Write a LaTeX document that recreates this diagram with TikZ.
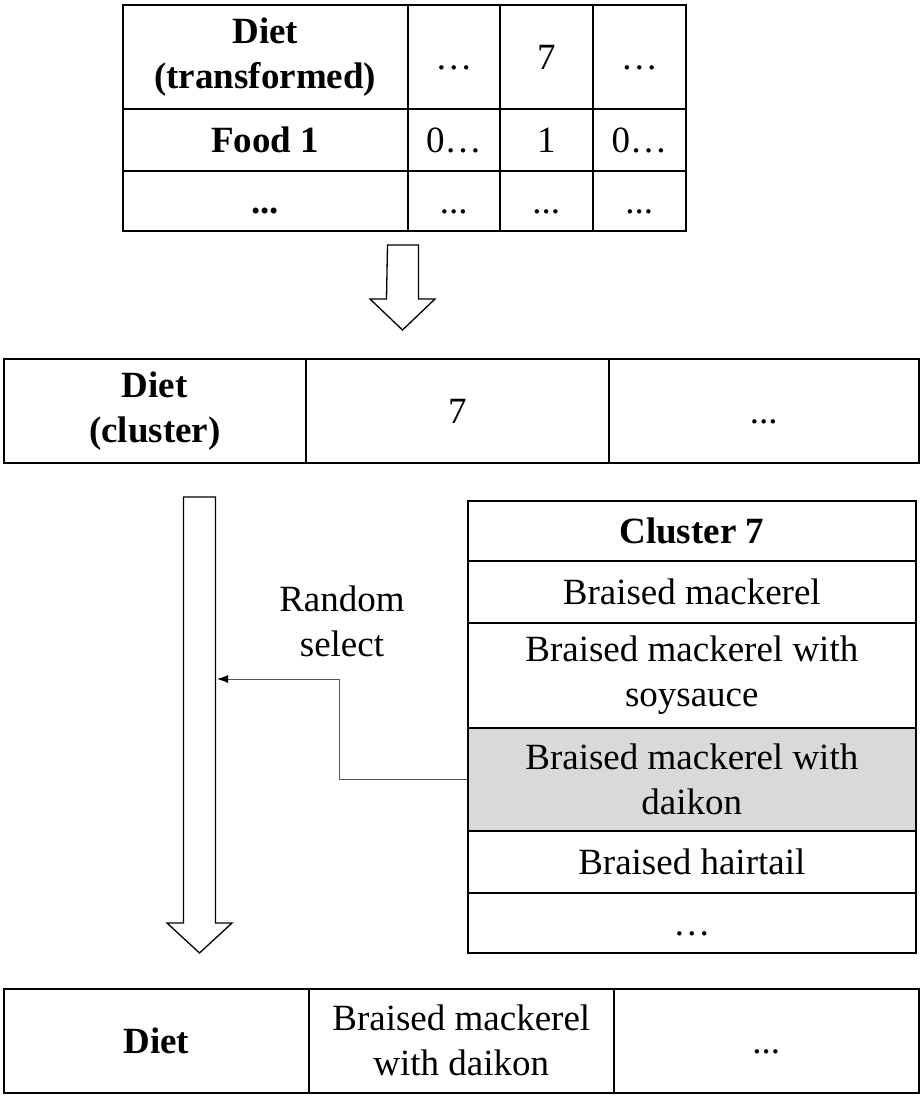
\documentclass[tikz,border=0pt]{standalone}
\usepackage{fontspec}
\setmainfont{Liberation Serif}
\usetikzlibrary{arrows.meta}
\definecolor{selgray}{HTML}{D9D9D9}
\definecolor{linkgray}{HTML}{555555}
\tikzset{
  cell/.style={draw, line width=1.6pt, anchor=north west, inner sep=0pt, align=center},
  one/.style={text height=26pt, text depth=1pt},
  bigarrow/.style={draw, line width=1.3pt, fill=white},
}
\begin{document}
\begin{tikzpicture}[x=1pt, y=-1pt, font=\fontsize{37}{45}\selectfont]
	\useasboundingbox (0,0) rectangle (921,1108);
	% transformed diet
	\node[cell, minimum width=285, minimum height=104]      (tr-head)  at (122,4)   {\textbf{Diet}\\\textbf{(transformed)}};
	\node[cell, one, minimum width=92, minimum height=104]  (tr-h1)    at (407,4)   {…};
	\node[cell, one, minimum width=93, minimum height=104]  (tr-h7)    at (499,4)   {7};
	\node[cell, one, minimum width=93, minimum height=104]  (tr-h2)    at (592,4)   {…};
	\node[cell, one, minimum width=285, minimum height=62]  (tr-food)  at (122,108) {\textbf{Food 1}};
	\node[cell, one, minimum width=92, minimum height=62]   (tr-f1)    at (407,108) {0…};
	\node[cell, one, minimum width=93, minimum height=62]   (tr-f7)    at (499,108) {1};
	\node[cell, one, minimum width=93, minimum height=62]   (tr-f2)    at (592,108) {0…};
	\node[cell, one, minimum width=285, minimum height=60]  (tr-more)  at (122,170) {\textbf{...}};
	\node[cell, one, minimum width=92, minimum height=60]   (tr-m1)    at (407,170) {...};
	\node[cell, one, minimum width=93, minimum height=60]   (tr-m7)    at (499,170) {...};
	\node[cell, one, minimum width=93, minimum height=60]   (tr-m2)    at (592,170) {...};
	% first arrow
	\draw[bigarrow] (387.5,245) -- ++(31,0) -- ++(0,54) -- ++(16.5,0) -- ++(-32.5,31) -- ++(-32.5,-31) -- ++(16.5,0) -- cycle;
	% clustered diet
	\node[cell, minimum width=302, minimum height=104]      (cl-head)  at (3,358)   {\textbf{Diet}\\\textbf{(cluster)}};
	\node[cell, one, minimum width=303, minimum height=104] (cl-7)     at (305,358) {7};
	\node[cell, one, minimum width=310, minimum height=104] (cl-more)  at (608,358) {...};
	% long arrow
	\draw[bigarrow] (183.5,497) -- ++(32,0) -- ++(0,426) -- ++(16.5,0) -- ++(-32.5,30) -- ++(-32.5,-30) -- ++(16.5,0) -- cycle;
	\coordinate (pick) at (217,679);
	% cluster 7
	\node[cell, one, minimum width=448, minimum height=60]  (c7-head)  at (467,500) {\textbf{Cluster 7}};
	\node[cell, one, minimum width=448, minimum height=62]  (c7-a)     at (467,560) {Braised mackerel};
	\node[cell, minimum width=448, minimum height=105]      (c7-b)     at (467,622) {Braised mackerel with\\soysauce};
	\node[cell, fill=selgray, minimum width=448, minimum height=103] (sel) at (467,727) {Braised mackerel with\\daikon};
	\node[cell, one, minimum width=448, minimum height=62]  (c7-c)     at (467,830) {Braised hairtail};
	\node[cell, one, minimum width=448, minimum height=60]  (c7-more)  at (467,892) {…};
	\node[align=center] (rand) at (342,621) {Random\\select};
	\draw[linkgray, line width=1pt, -{Latex[black,length=11pt,width=8pt]}] (sel.west) -- ++(-128,0) |- (pick);
	% final diet
	\node[cell, one, minimum width=305, minimum height=104] (dt-head)  at (3,988)   {\textbf{Diet}};
	\node[cell, minimum width=305, minimum height=104]      (dt-dish)  at (308,988) {Braised mackerel\\with daikon};
	\node[cell, one, minimum width=305, minimum height=104] (dt-more)  at (613,988) {...};
\end{tikzpicture}
\end{document}
